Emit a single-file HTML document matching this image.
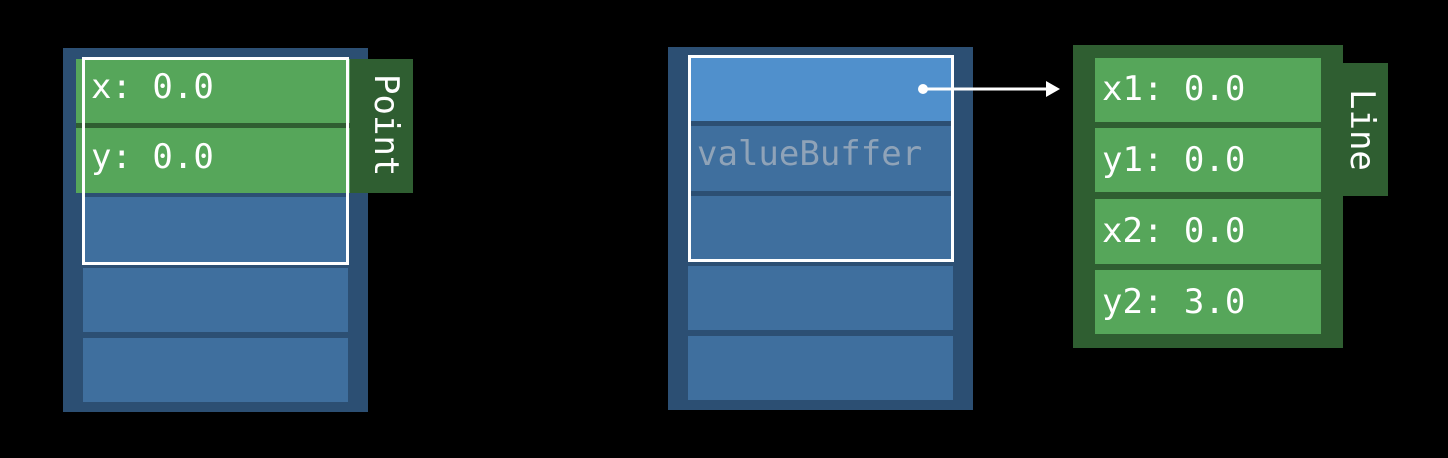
<!DOCTYPE html>
<html><head><style>
body{margin:0;width:1448px;height:458px;background:#000;position:relative;overflow:hidden;font-family:"DejaVu Sans Mono","Liberation Mono",monospace}
div{position:absolute;box-sizing:border-box}
.o{background:#2c4f73}
.c{background:#3f6f9e}
.g{background:#56a65a}
.d{background:#2f5e31}
.t{color:#fff;font-size:34px;line-height:1;white-space:pre}
.w{border:3px solid #fff}
.v{color:#fff;font-size:34px;white-space:pre;transform:rotate(90deg);transform-origin:0 0}
</style></head><body>
<div class="o" style="left:63px;top:48px;width:305px;height:364px"></div>
<div class="c" style="left:83px;top:197px;width:265px;height:65px"></div>
<div class="c" style="left:83px;top:268px;width:265px;height:64px"></div>
<div class="c" style="left:83px;top:338px;width:265px;height:64px"></div>
<div class="d" style="left:76px;top:59px;width:337px;height:134px"></div>
<div class="g" style="left:76px;top:59px;width:274px;height:64px"></div>
<div class="g" style="left:76px;top:128px;width:274px;height:65px"></div>
<div class="t" style="left:91px;top:70px">x: 0.0</div>
<div class="t" style="left:91px;top:140px">y: 0.0</div>
<div class="v" style="left:406px;top:74px">Point</div>
<div class="w" style="left:82px;top:57px;width:267px;height:208px"></div>
<div class="o" style="left:668px;top:47px;width:305px;height:363px"></div>
<div style="left:688px;top:55px;width:265px;height:66px;background:#5090cc"></div>
<div class="c" style="left:688px;top:126px;width:265px;height:65px"></div>
<div class="c" style="left:688px;top:196px;width:265px;height:64px"></div>
<div class="c" style="left:688px;top:266px;width:265px;height:64px"></div>
<div class="c" style="left:688px;top:336px;width:265px;height:64px"></div>
<div class="t" style="left:697px;top:137px;color:#8fa3b8">valueBuffer</div>
<div class="w" style="left:688px;top:55px;width:266px;height:207px"></div>
<svg style="position:absolute;left:0;top:0" width="1448" height="458">
<circle cx="923" cy="89" r="5" fill="#fff"/>
<line x1="923" y1="89" x2="1048" y2="89" stroke="#fff" stroke-width="3"/>
<polygon points="1046,81 1060,89 1046,97" fill="#fff"/>
</svg>
<div class="d" style="left:1073px;top:45px;width:270px;height:303px"></div>
<div class="d" style="left:1340px;top:63px;width:48px;height:133px"></div>
<div class="g" style="left:1095px;top:58px;width:226px;height:64px"></div>
<div class="g" style="left:1095px;top:128px;width:226px;height:64px"></div>
<div class="g" style="left:1095px;top:199px;width:226px;height:65px"></div>
<div class="g" style="left:1095px;top:270px;width:226px;height:64px"></div>
<div class="t" style="left:1102px;top:72px">x1: 0.0</div>
<div class="t" style="left:1102px;top:143px">y1: 0.0</div>
<div class="t" style="left:1102px;top:214px">x2: 0.0</div>
<div class="t" style="left:1102px;top:285px">y2: 3.0</div>
<div class="v" style="left:1382px;top:89px">Line</div>
</body></html>
